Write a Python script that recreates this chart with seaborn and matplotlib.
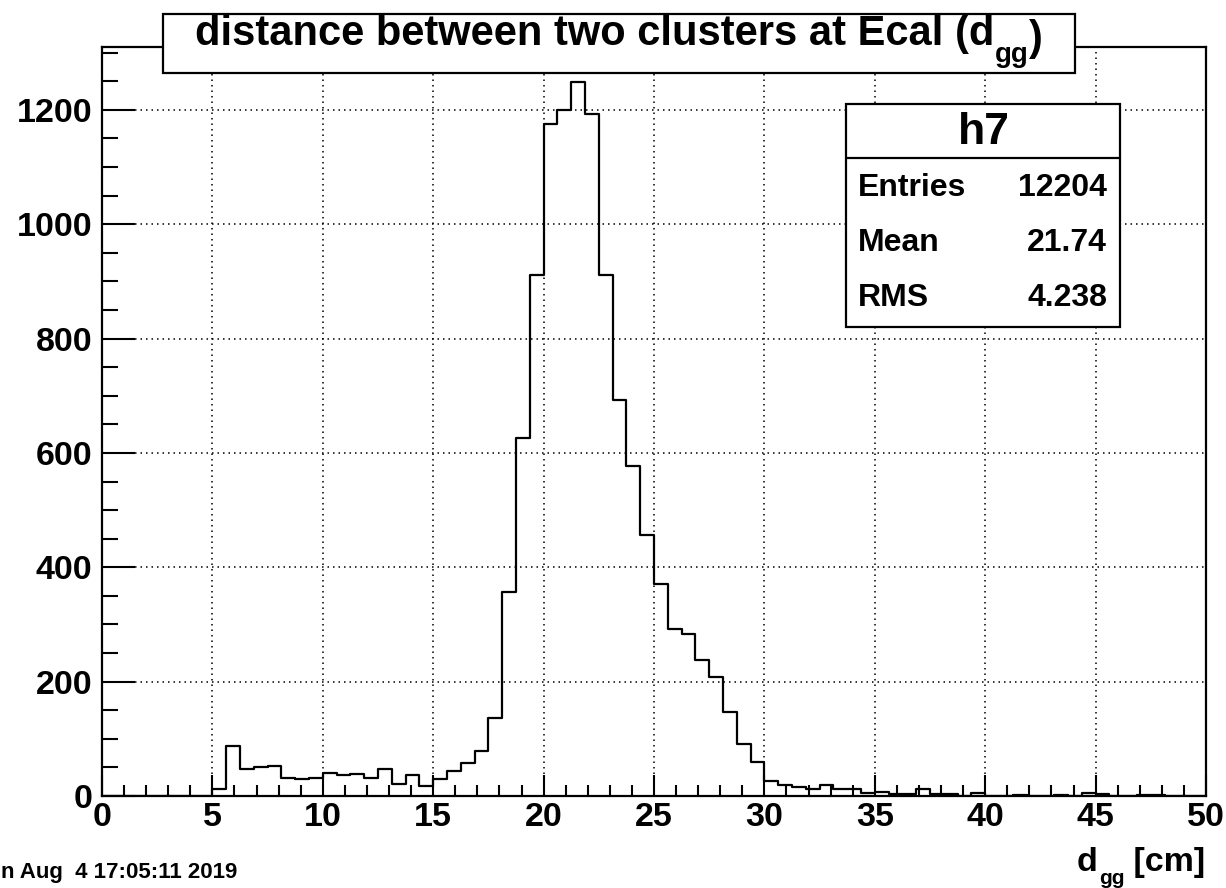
import numpy as np
import pandas as pd
import matplotlib
matplotlib.use("Agg")
import matplotlib.pyplot as plt
from matplotlib.patches import Rectangle
from matplotlib.lines import Line2D
import seaborn as sns

# ---------------- data ----------------
x_min, x_max, n_bins = 0.0, 50.0, 80
counts = [
    0, 0, 0, 0, 0, 0, 0, 0,            # 0 - 5
    12, 88, 47, 50, 53, 32, 29, 32,    # 5 - 10
    40, 36, 39, 32, 47, 21, 36, 17,    # 10 - 15
    29, 43, 57, 78, 137, 356, 626, 911,  # 15 - 20
    1175, 1200, 1248, 1193, 911, 692, 578, 456,  # 20 - 25
    370, 292, 283, 237, 209, 147, 91, 60,  # 25 - 30
    26, 19, 15, 12, 19, 12, 12, 6,     # 30 - 35
    7, 4, 4, 12, 3, 4, 0, 6,           # 35 - 40
    0, 0, 2, 0, 0, 2, 0, 5,            # 40 - 45
    3, 0, 0, 2, 2, 0, 0, 0,            # 45 - 50
]
x_ticks = [0, 5, 10, 15, 20, 25, 30, 35, 40, 45, 50]
y_ticks = [0, 200, 400, 600, 800, 1000, 1200]
y_max = 1310
title_parts = ["distance between two clusters at Ecal (d", "gg", ")"]
xlabel_parts = ["d", "gg", " [cm]"]
stats_name = "h7"
stats_labels = ["Entries", "Mean", "RMS"]
stats_values = ["12204", "21.74", "4.238"]
timestamp = "n Aug  4 17:05:11 2019"

# ---------------- style ----------------
sns.set_theme(style="ticks")
plt.rcParams["font.family"] = ["Liberation Sans", "DejaVu Sans"]
plt.rcParams["font.weight"] = "bold"
plt.rcParams["text.color"] = "black"
plt.rcParams["axes.labelcolor"] = "black"
plt.rcParams["xtick.color"] = "black"
plt.rcParams["ytick.color"] = "black"

W, H = 1226, 888
fig = plt.figure(figsize=(W / 100, H / 100), dpi=100, facecolor="white")
renderer = fig.canvas.get_renderer()


def fx(px):
    return px / W


def fy(py):
    return 1 - py / H


def right_px(t):
    bb = t.get_window_extent(renderer=renderer)
    return bb.x1


L, R, T, B = 102, 1206, 47, 796
ax = fig.add_axes([fx(L), fy(B), fx(R) - fx(L), fy(T) - fy(B)])
ax.set_facecolor("white")

edges = list(np.linspace(x_min, x_max, n_bins + 1))
centers = [0.5 * (a + b) for a, b in zip(edges[:-1], edges[1:])]
df = pd.DataFrame({"d": centers, "n": counts})
sns.histplot(data=df, x="d", weights="n", bins=edges, element="step",
             fill=False, color="black", linewidth=1.6, ax=ax, zorder=3)

ax.set_xlim(x_min, x_max)
ax.set_ylim(0, y_max)
ax.set_xlabel("")
ax.set_ylabel("")
ax.set_xticks(x_ticks)
ax.set_yticks(y_ticks)
ax.set_xticks(np.arange(x_min, x_max + 0.01, 1.0), minor=True)
ax.set_yticks(np.arange(0, y_max, 50), minor=True)
ax.set_xticklabels([str(v) for v in x_ticks])
ax.set_yticklabels([str(v) for v in y_ticks])

ax.tick_params(axis="both", which="both", direction="in", top=False, right=False,
               color="black", width=1.5, labelsize=24.5, labelcolor="black")
ax.tick_params(axis="x", which="major", length=15, pad=4)
ax.tick_params(axis="x", which="minor", length=8)
ax.tick_params(axis="y", which="major", length=24, pad=7)
ax.tick_params(axis="y", which="minor", length=11.5)
for lab in ax.get_xticklabels() + ax.get_yticklabels():
    lab.set_fontweight("bold")

for s in ax.spines.values():
    s.set_color("black")
    s.set_linewidth(1.6)
    s.set_visible(True)

ax.grid(True, which="major", color="black", linestyle=(0, (1.0, 2.6)), linewidth=1.1)
ax.set_axisbelow(True)

# ---------------- title box ----------------
fig.add_artist(Rectangle((fx(163), fy(73)), fx(1075) - fx(163), fy(14) - fy(73),
                         transform=fig.transFigure, facecolor="white",
                         edgecolor="black", linewidth=1.6, zorder=5))
t1 = fig.text(fx(195), fy(45), title_parts[0], fontsize=30, fontweight="bold",
              ha="left", va="baseline", zorder=6)
x_next = right_px(t1) + 1
t2 = fig.text(x_next / W, fy(62), title_parts[1], fontsize=20, fontweight="bold",
              ha="left", va="baseline", zorder=6)
x_next = right_px(t2) + 0
fig.text(x_next / W, fy(50), title_parts[2], fontsize=30, fontweight="bold",
         ha="left", va="baseline", zorder=6)

# ---------------- stats box ----------------
sx0, sx1, sy0, sy1, sdiv = 846, 1120, 104, 327, 158
fig.add_artist(Rectangle((fx(sx0), fy(sy1)), fx(sx1) - fx(sx0), fy(sy0) - fy(sy1),
                         transform=fig.transFigure, facecolor="white",
                         edgecolor="black", linewidth=1.6, zorder=5))
fig.add_artist(Line2D([fx(sx0), fx(sx1)], [fy(sdiv), fy(sdiv)],
                      transform=fig.transFigure, color="black", linewidth=1.6, zorder=6))
fig.text(fx(984), fy(133), stats_name, fontsize=32, fontweight="bold",
         ha="center", va="center", zorder=7)
row_y = [188, 243, 298]
for lab, val, yy in zip(stats_labels, stats_values, row_y):
    fig.text(fx(858), fy(yy), lab, fontsize=23, fontweight="bold",
             ha="left", va="center", zorder=7)
    fig.text(fx(1107), fy(yy), val, fontsize=23, fontweight="bold",
             ha="right", va="center", zorder=7)

# ---------------- axis label & timestamp ----------------
x1 = fig.text(fx(1077), fy(871), xlabel_parts[0], fontsize=24.5, fontweight="bold",
              ha="left", va="baseline")
x_next = right_px(x1) + 1
x2 = fig.text(x_next / W, fy(884), xlabel_parts[1], fontsize=15, fontweight="bold",
              ha="left", va="baseline")
x_next = right_px(x2)
fig.text(x_next / W, fy(871), xlabel_parts[2], fontsize=24.5, fontweight="bold",
         ha="left", va="baseline")
fig.text(fx(1), fy(878), timestamp, fontsize=16, fontweight="bold",
         ha="left", va="baseline")

fig.savefig("out.png", dpi=100, facecolor="white")
